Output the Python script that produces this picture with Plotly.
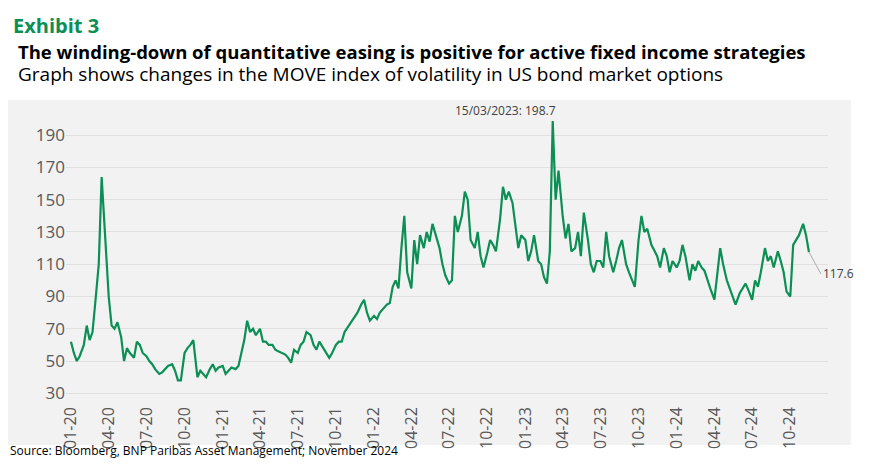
import pandas as pd
import plotly.graph_objects as go

# MOVE index, sampled on days 1, 8, 15, 22 of each month (Jan 2020 - Nov 2024)
days = [1, 8, 15, 22]
move_values = [
    62, 55, 50, 53,  60, 72, 63, 68,  90, 110, 164, 130,  90, 72, 70, 74,
    65, 50, 58, 55,  52, 62, 60, 55,  53, 50, 48, 45,  42, 43, 45, 47,
    48, 44, 38, 38,  55, 58, 60, 63,  40, 44, 42, 40,  45, 48, 44, 46,
    47, 42, 44, 46,  45, 47, 55, 63,  75, 68, 70, 66,  70, 62, 62, 60,
    60, 57, 56, 55,  54, 52, 49, 57,  55, 60, 62, 68,  66, 60, 57, 62,
    58, 55, 52, 55,  60, 62, 62, 68,  72, 75, 78, 80,  85, 88, 80, 75,
    78, 76, 80, 82,  85, 86, 96, 100,  95, 120, 140, 105,  95, 125, 110, 128,
    120, 130, 124, 135,  127, 120, 110, 103,  98, 100, 140, 130,  140, 155, 150, 125,
    120, 130, 115, 108,  117, 125, 122, 118,  138, 158, 150, 155,  148, 135, 120, 128,
    125, 112, 118, 128,  112, 110, 102, 98,  118, 198.7, 150, 168,  140, 126, 135, 118,
    120, 130, 115, 142,  125, 110, 105, 112,  112, 108, 130, 115,  105, 112, 120, 125,
    110, 105, 100, 96,  125, 140, 130, 132,  122, 118, 115, 108,  120, 115, 105, 112,
    108, 112, 122, 115,  100, 110, 106, 112,  108, 106, 100, 95,  88, 105, 120, 110,
    100, 95, 90, 85,  92, 95, 98, 94,  88, 100, 96, 105,  120, 112, 115, 108,
    118, 112, 105, 93,  90, 122, 125, 128,  135, 128, 117.6,
]
months = pd.date_range("2020-01-01", "2024-11-01", freq="MS")
dates = [m + pd.Timedelta(days=d - 1) for m in months for d in days][: len(move_values)]

tick_dates = pd.date_range("2020-01-01", "2024-10-01", freq="QS")
tick_labels = [d.strftime("%m-%y") for d in tick_dates]
y_ticks = list(range(30, 191, 20))

GREEN = "#0b8f55"
GREY = "#595959"

fig = go.Figure()
fig.add_trace(go.Scatter(x=dates, y=move_values, mode="lines",
                         line=dict(color=GREEN, width=2.2), showlegend=False))

fig.update_layout(
    width=895, height=473,
    margin=dict(l=58, r=75, t=111, b=78),
    paper_bgcolor="white", plot_bgcolor="#f2f2f2",
    font=dict(family="Open Sans", color=GREY),
    xaxis=dict(tickvals=tick_dates, ticktext=tick_labels, tickangle=-90,
               tickfont=dict(size=16, color=GREY), showgrid=False,
               range=[pd.Timestamp("2019-12-20"), pd.Timestamp("2024-12-31")]),
    yaxis=dict(tickvals=y_ticks, range=[24, 200], tickfont=dict(size=17, color=GREY),
               gridcolor="#e0e0e0", zeroline=False),
    shapes=[dict(type="rect", xref="paper", yref="paper", x0=-0.077, x1=1.03,
                 y0=-0.148, y1=1.067, fillcolor="#f2f2f2", line=dict(width=0),
                 layer="below")],
)

fig.add_annotation(x=pd.Timestamp("2023-03-15"), y=198.7, text="15/03/2023: 198.7",
                   showarrow=False, xanchor="right", yanchor="bottom", xshift=2,
                   font=dict(size=12, color="#404040"))
fig.add_annotation(x=dates[-1], y=117.6, text="117.6", showarrow=True, arrowhead=0,
                   arrowcolor="#aaaaaa", arrowwidth=1, ax=12, ay=22, xanchor="left",
                   font=dict(size=12, color="#404040"))

fig.add_annotation(xref="paper", yref="paper", x=-0.0727, y=1.385, xanchor="left",
                   yanchor="top", showarrow=False, text="<b>Exhibit 3</b>",
                   font=dict(size=20, color=GREEN, family="Open Sans"))
fig.add_annotation(xref="paper", yref="paper", x=-0.065, y=1.236, xanchor="left",
                   yanchor="middle", showarrow=False,
                   text="<b>The winding-down of quantitative easing is positive for active fixed income strategies</b>",
                   font=dict(size=18.5, color="black", family="Open Sans"))
fig.add_annotation(xref="paper", yref="paper", x=-0.065, y=1.158, xanchor="left",
                   yanchor="middle", showarrow=False,
                   text="Graph shows changes in the MOVE index of volatility in US bond market options",
                   font=dict(size=19, color="black", family="Open Sans"))
fig.add_annotation(xref="paper", yref="paper", x=-0.0766, y=-0.169, xanchor="left",
                   yanchor="middle", showarrow=False,
                   text="Source: Bloomberg, BNP Paribas Asset Management; November 2024",
                   font=dict(size=12, color="black", family="Open Sans"))

fig.write_html("out.html")
